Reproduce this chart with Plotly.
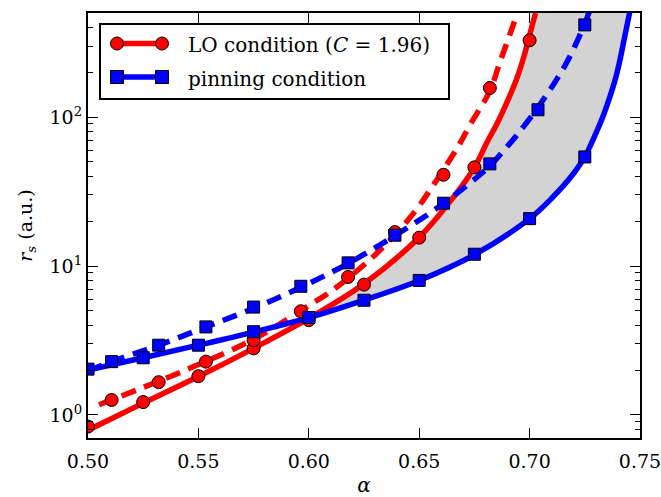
import plotly.graph_objects as go

# ---------------- data ----------------
# theory curves
red_solid_x = [0.500, 0.525, 0.550, 0.575, 0.600, 0.625, 0.650, 0.667, 0.675, 0.681, 0.685, 0.688, 0.694, 0.6975, 0.6993, 0.7027]
red_solid_y = [0.79, 1.20, 1.81, 2.80, 4.45, 7.6, 15.6, 31, 46, 69, 89, 110, 178, 257, 325, 500]

red_dash_x = [0.505, 0.5424, 0.5771, 0.6005, 0.6103, 0.6306, 0.6472, 0.6575, 0.6683, 0.6729, 0.682, 0.6864, 0.690, 0.6945]
red_dash_y = [1.17, 1.95, 3.35, 5.5, 6.8, 12.1, 22.4, 37, 66, 88, 150, 230, 324, 500]

blue_solid_x = [0.500, 0.525, 0.550, 0.575, 0.600, 0.625, 0.650, 0.675, 0.700, 0.710, 0.720, 0.725, 0.729, 0.733, 0.736, 0.739, 0.741, 0.743, 0.7455]
blue_solid_y = [2.0, 2.42, 2.94, 3.6, 4.5, 5.9, 8.0, 11.9, 20.8, 28.5, 42, 54, 72, 99, 132, 184, 245, 342, 520]

blue_dash_x = [0.500, 0.5107, 0.532, 0.5534, 0.575, 0.5964, 0.6178, 0.639, 0.661, 0.682, 0.688, 0.694, 0.703, 0.7128, 0.718, 0.7249, 0.7271]
blue_dash_y = [1.97, 2.28, 2.94, 3.9, 5.2, 7.2, 10.4, 16.0, 26.3, 47, 59, 75, 112, 184, 251, 420, 515]

# simulation points
red_pts_a_x = [0.500, 0.525, 0.550, 0.575, 0.600, 0.625, 0.650, 0.675, 0.700]
red_pts_a_y = [0.835, 1.22, 1.82, 2.80, 4.33, 7.5, 15.5, 46, 328]
red_pts_b_x = [0.5107, 0.532, 0.5534, 0.575, 0.5964, 0.6178, 0.639, 0.661, 0.682]
red_pts_b_y = [1.26, 1.66, 2.28, 3.18, 4.97, 8.44, 16.9, 41, 157]

blue_pts_a_x = [0.500, 0.525, 0.550, 0.575, 0.600, 0.625, 0.650, 0.675, 0.700, 0.725]
blue_pts_a_y = [2.03, 2.42, 2.94, 3.62, 4.51, 5.89, 8.0, 12.0, 20.8, 54]
blue_pts_b_x = [0.5107, 0.532, 0.5534, 0.575, 0.5964, 0.6178, 0.639, 0.661, 0.682, 0.7038, 0.725]
blue_pts_b_y = [2.28, 2.94, 3.9, 5.3, 7.31, 10.5, 16.1, 26.4, 48.5, 112, 416]

x_ticks = [0.50, 0.55, 0.60, 0.65, 0.70, 0.75]
x_tick_text = ["0.50", "0.55", "0.60", "0.65", "0.70", "0.75"]
y_ticks = [1, 10, 100]
y_tick_text = ["10<sup>0</sup>", "10<sup>1</sup>", "10<sup>2</sup>"]
legend_labels = ["LO condition (<i>C</i> = 1.96)", "pinning condition"]
x_label = "<i>α</i>"
y_label = "<i>r<sub>s</sub></i> (a.u.)"

# ---------------- style ----------------
RED = "#ff0000"
BLUE = "#0000ff"
GRAY = "#d3d3d3"
FONT = "'DejaVu Serif', 'Liberation Serif', serif"
LW = 5.5
DASH = "15px,9px"
SMOOTH = 1.0

W_FIG, H_FIG = 661, 497
L, R, T, B = 88, 21, 13, 59
PW = W_FIG - L - R
PH = H_FIG - T - B


def px2x(px):
    return (px - L) / PW


def py2y(py):
    return (T + PH - py) / PH


fig = go.Figure()

# shaded region between solid curves (where LO curve is above pinning curve)
fx_b = [x for x in blue_solid_x if x >= 0.6]
fy_b = [y for x, y in zip(blue_solid_x, blue_solid_y) if x >= 0.6]
fx_r = [x for x in red_solid_x if x >= 0.6]
fy_r = [y for x, y in zip(red_solid_x, red_solid_y) if x >= 0.6]
fig.add_trace(go.Scatter(
    x=fx_b + fx_r[::-1], y=fy_b + fy_r[::-1],
    mode="lines", fill="toself", fillcolor=GRAY,
    line=dict(width=0, color=GRAY, shape="spline", smoothing=SMOOTH),
    hoverinfo="skip", showlegend=False))

fig.add_trace(go.Scatter(x=red_solid_x, y=red_solid_y, mode="lines",
                         line=dict(color=RED, width=LW, shape="spline", smoothing=SMOOTH),
                         showlegend=False))
fig.add_trace(go.Scatter(x=red_dash_x, y=red_dash_y, mode="lines",
                         line=dict(color=RED, width=LW, dash=DASH, shape="spline", smoothing=SMOOTH),
                         showlegend=False))
fig.add_trace(go.Scatter(x=blue_solid_x, y=blue_solid_y, mode="lines",
                         line=dict(color=BLUE, width=LW, shape="spline", smoothing=SMOOTH),
                         showlegend=False))
fig.add_trace(go.Scatter(x=blue_dash_x, y=blue_dash_y, mode="lines",
                         line=dict(color=BLUE, width=LW, dash=DASH, shape="spline", smoothing=SMOOTH),
                         showlegend=False))

circ = dict(symbol="circle", size=13, color=RED, line=dict(color="black", width=1))
sq = dict(symbol="square", size=12, color=BLUE, line=dict(color="black", width=1))
fig.add_trace(go.Scatter(x=red_pts_a_x, y=red_pts_a_y, mode="markers", marker=circ, showlegend=False))
fig.add_trace(go.Scatter(x=red_pts_b_x, y=red_pts_b_y, mode="markers", marker=circ, showlegend=False))
fig.add_trace(go.Scatter(x=blue_pts_a_x, y=blue_pts_a_y, mode="markers", marker=sq, showlegend=False))
fig.add_trace(go.Scatter(x=blue_pts_b_x, y=blue_pts_b_y, mode="markers", marker=sq, showlegend=False))

# ---------------- hand-drawn legend (matplotlib style, two markers per entry) ----------------
shapes = []
annotations = []
shapes.append(dict(type="rect", xref="paper", yref="paper",
                   x0=px2x(100), x1=px2x(449), y0=py2y(99), y1=py2y(24),
                   line=dict(color="black", width=2), fillcolor="white", layer="above"))
entries = [(43.5, RED, "circle", legend_labels[0], 45), (77, BLUE, "square", legend_labels[1], 79)]
for ly, col, sym, lab, ty in entries:
    shapes.append(dict(type="line", xref="paper", yref="paper",
                       x0=px2x(117), x1=px2x(162), y0=py2y(ly), y1=py2y(ly),
                       line=dict(color=col, width=LW), layer="above"))
    for cx in (117, 162):
        r = 6.5
        shapes.append(dict(type="circle" if sym == "circle" else "rect",
                           xref="paper", yref="paper",
                           x0=px2x(cx - r), x1=px2x(cx + r), y0=py2y(ly + r), y1=py2y(ly - r),
                           line=dict(color="black", width=1), fillcolor=col, layer="above"))
    annotations.append(dict(xref="paper", yref="paper", x=px2x(186), y=py2y(ty),
                            xanchor="left", yanchor="middle", showarrow=False, text=lab,
                            font=dict(family=FONT, size=20, color="black")))

minor_vals = [m * 10 ** e for e in (-1, 0, 1, 2) for m in range(2, 10) if 0.7 <= m * 10 ** e <= 500]

fig.update_layout(
    width=W_FIG, height=H_FIG,
    margin=dict(l=L, r=R, t=T, b=B, pad=0, autoexpand=False),
    paper_bgcolor="white", plot_bgcolor="white",
    font=dict(family=FONT, size=19, color="black"),
    showlegend=False,
    shapes=shapes, annotations=annotations,
    xaxis=dict(range=[0.5, 0.7500001], tickvals=x_ticks, ticktext=x_tick_text,
               ticks="inside", ticklen=10, tickwidth=1, tickcolor="black",
               showline=True, linecolor="black", linewidth=2, mirror="ticks",
               showgrid=False, zeroline=False, automargin=False,
               ticklabelstandoff=5, ticklabeloverflow="allow",
               tickfont=dict(family=FONT, size=19),
               title=dict(text=x_label, font=dict(family=FONT, size=20), standoff=12)),
    yaxis=dict(type="log", range=[-0.1549, 2.699], tickvals=y_ticks, ticktext=y_tick_text,
               ticks="inside", ticklen=10, tickwidth=1, tickcolor="black",
               showline=True, linecolor="black", linewidth=2, mirror="ticks",
               showgrid=False, zeroline=False, automargin=False,
               minor=dict(tickvals=minor_vals, ticks="inside", ticklen=5, tickwidth=1,
                          tickcolor="black", showgrid=False),
               tickfont=dict(family=FONT, size=19),
               title=dict(text=y_label, font=dict(family=FONT, size=19), standoff=12)),
)

fig.write_html("out.html", config={"displayModeBar": False},
               post_script="document.body.style.margin='0px';")
